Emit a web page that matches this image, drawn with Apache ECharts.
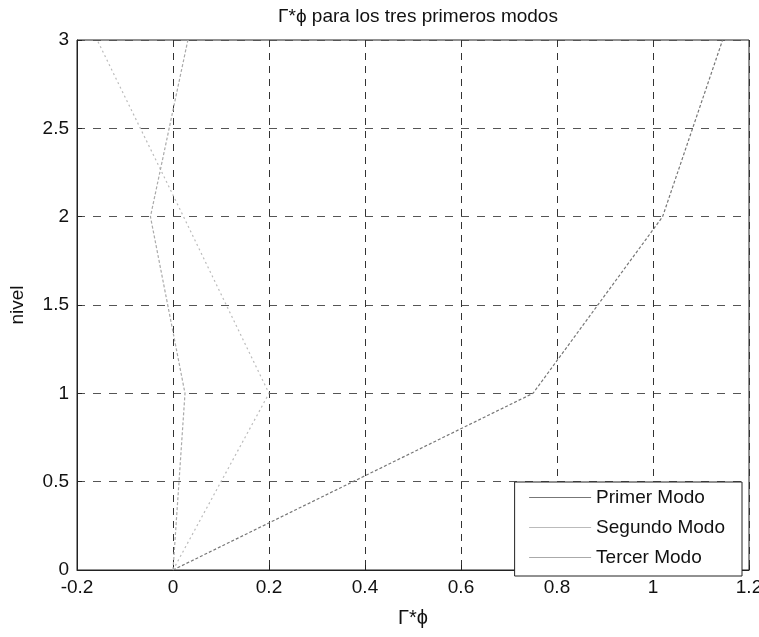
<!DOCTYPE html>
<html>
<head>
<meta charset="utf-8">
<script src="https://cdn.jsdelivr.net/npm/echarts@6/dist/echarts.min.js"></script>
<style>
  html, body { margin: 0; padding: 0; background: #fff; }
  #chart { width: 759px; height: 637px; }
</style>
</head>
<body>
<div id="chart"></div>
<script>
// niveles (eje y)
var niveles = [0, 1, 2, 3];
// Gamma*phi por modo (eje x)
var primerModo = [0, 0.75, 1.02, 1.145];
var segundoModo = [0, 0.2, 0.022, -0.158];
var tercerModo = [0, 0.025, -0.047, 0.031];

function pares(vals) {
  return vals.map(function (v, i) { return [v, niveles[i]]; });
}

var myChart = echarts.init(document.getElementById('chart'));
var font = 'Liberation Sans, Arial, sans-serif';

var option = {
  backgroundColor: '#fff',
  animation: false,
  title: {
    text: 'Γ*ϕ para los tres primeros modos',
    left: 413,
    textAlign: 'center',
    top: 2,
    textStyle: { fontFamily: font, fontSize: 19, fontWeight: 'normal', color: '#111' }
  },
  grid: {
    left: 77, right: 10, top: 40, bottom: 67,
    outerBoundsMode: 'none',
    show: true, borderColor: '#222', borderWidth: 1, backgroundColor: '#fff'
  },
  legend: {
    orient: 'vertical',
    right: 17, bottom: 61,
    backgroundColor: '#fff',
    borderColor: '#222', borderWidth: 1,
    padding: [6, 17, 9, 14],
    itemGap: 11,
    itemWidth: 62, itemHeight: 12,
    itemStyle: { opacity: 0, borderWidth: 0 },
    textStyle: { fontFamily: font, fontSize: 19, color: '#111' },
    lineStyle: { type: 'solid', width: 1 },
    data: ['Primer Modo', 'Segundo Modo', 'Tercer Modo']
  },
  xAxis: {
    type: 'value',
    min: -0.2, max: 1.2, interval: 0.2,
    name: 'Γ*ϕ',
    nameLocation: 'middle',
    nameGap: 38,
    nameTextStyle: { fontFamily: font, fontSize: 20, color: '#111' },
    axisLine: { show: true, onZero: false, lineStyle: { color: '#222' } },
    axisTick: { show: true, inside: true, length: 5, lineStyle: { color: '#222' } },
    axisLabel: {
      fontFamily: font, fontSize: 19, color: '#111', margin: 8,
      formatter: function (v) { return String(Math.round(v * 10) / 10); }
    },
    splitLine: { show: true, lineStyle: { color: '#333', type: [7, 6], width: 1 } }
  },
  yAxis: {
    type: 'value',
    min: 0, max: 3, interval: 0.5,
    name: 'nivel',
    nameLocation: 'middle',
    nameGap: 50,
    nameTextStyle: { fontFamily: font, fontSize: 19, color: '#111' },
    axisLine: { show: true, onZero: false, lineStyle: { color: '#222' } },
    axisTick: { show: true, inside: true, length: 5, lineStyle: { color: '#222' } },
    axisLabel: { fontFamily: font, fontSize: 19, color: '#111', margin: 8 },
    splitLine: { show: true, lineStyle: { color: '#555', type: [8, 8], width: 1 } }
  },
  series: [
    {
      name: 'Primer Modo', type: 'line', symbol: 'none',
      color: '#444',
      lineStyle: { color: '#777', width: 1.2, type: [3, 2] },
      data: pares(primerModo)
    },
    {
      name: 'Segundo Modo', type: 'line', symbol: 'none',
      color: '#bbb',
      lineStyle: { color: '#bbb', width: 1.2, type: [2, 3] },
      data: pares(segundoModo)
    },
    {
      name: 'Tercer Modo', type: 'line', symbol: 'none',
      color: '#aaa',
      lineStyle: { color: '#aaa', width: 1.2, type: [3, 2] },
      data: pares(tercerModo)
    }
  ]
};

myChart.setOption(option);
</script>
</body>
</html>
